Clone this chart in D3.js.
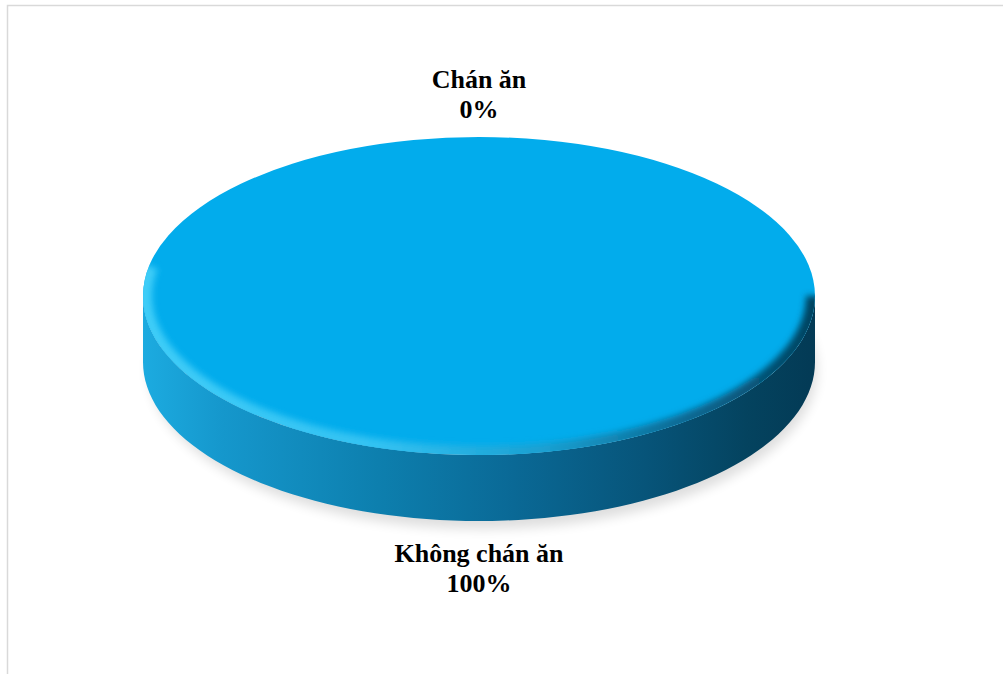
<!DOCTYPE html>
<html><head><meta charset="utf-8">
<script src="https://cdn.jsdelivr.net/npm/d3@7"></script>
<style>html,body{margin:0;padding:0;background:#fff;}svg{display:block;}</style>
</head><body>
<script>
const categories = ["Chán ăn", "Không chán ăn"];
const values = [0, 100];
const percentLabels = ["0%", "100%"];

const W = 1003, H = 674;
const cx = 479, cy = 296, rx = 336, ry = 159, depth = 66;

const svg = d3.select("body").append("svg").attr("width", W).attr("height", H);
const defs = svg.append("defs");

// border
svg.append("path").attr("d", `M7.5,${H} L7.5,5.5 L${W},5.5`).attr("fill","none")
  .attr("stroke","#d9d9d9").attr("stroke-width",1.5);

const sideGrad = defs.append("linearGradient").attr("id","sideGrad")
  .attr("gradientUnits","userSpaceOnUse").attr("x1",cx-rx).attr("x2",cx+rx).attr("y1",0).attr("y2",0);
[[0,"#1cabe0"],[0.12,"#1597cc"],[0.35,"#0d7fae"],[0.55,"#0a6996"],[0.75,"#075479"],[0.9,"#04435f"],[1,"#033a55"]]
 .forEach(([o,c])=>sideGrad.append("stop").attr("offset",o).attr("stop-color",c));

const bevelGrad = defs.append("linearGradient").attr("id","bevelGrad")
  .attr("gradientUnits","userSpaceOnUse").attr("x1",cx-rx).attr("x2",cx+rx).attr("y1",0).attr("y2",0);
[[0,"#3fcdf8"],[0.35,"#33c2f2"],[0.6,"#1a9fd0"],[0.8,"#0a6a94"],[1,"#04425f"]]
 .forEach(([o,c])=>bevelGrad.append("stop").attr("offset",o).attr("stop-color",c));

defs.append("filter").attr("id","blurS").attr("x","-20%").attr("y","-50%").attr("width","140%").attr("height","200%")
  .append("feGaussianBlur").attr("stdDeviation",6);
defs.append("filter").attr("id","blurB").attr("x","-20%").attr("y","-50%").attr("width","140%").attr("height","200%")
  .append("feGaussianBlur").attr("stdDeviation",3);
defs.append("clipPath").attr("id","topClip").append("ellipse")
  .attr("cx",cx).attr("cy",cy).attr("rx",rx).attr("ry",ry);

const pie = d3.pie().sort(null).value(d=>d)(values);
const pt = (a, dy=0) => [cx + rx*Math.sin(a), cy - ry*Math.cos(a) + dy];

// shadow
svg.append("ellipse").attr("cx",cx+4).attr("cy",cy+depth+8).attr("rx",rx-2).attr("ry",ry)
  .attr("fill","#000").attr("opacity",0.13).attr("filter","url(#blurS)");

// sides
pie.forEach(p=>{
  if (p.endAngle - p.startAngle <= 0) return;
  const a0 = Math.max(p.startAngle, Math.PI/2), a1 = Math.min(p.endAngle, 3*Math.PI/2);
  if (a1 <= a0) return;
  const n = 80, top = [], bot = [];
  for (let i=0;i<=n;i++){ const a=a0+(a1-a0)*i/n; top.push(pt(a)); bot.push(pt(a,depth)); }
  const d = "M" + top.map(q=>q.join(",")).join("L") + "L" + bot.reverse().map(q=>q.join(",")).join("L") + "Z";
  svg.append("path").attr("d",d).attr("fill","url(#sideGrad)");
});

// top faces
const arc = d3.arc().innerRadius(0).outerRadius(rx);
const topG = svg.append("g").attr("transform",`translate(${cx},${cy}) scale(1,${ry/rx})`);
pie.forEach((p,i)=>{
  if (p.endAngle - p.startAngle <= 0) return;
  topG.append("path").attr("d",arc(p)).attr("fill","#02acec");
});

// bevel along the front edge
const bev = svg.append("g").attr("clip-path","url(#topClip)");
pie.forEach(p=>{
  if (p.endAngle - p.startAngle <= 0) return;
  const a0 = Math.max(p.startAngle, Math.PI*0.5), a1 = Math.min(p.endAngle, Math.PI*1.56);
  const n = 80, pts=[];
  for (let i=0;i<=n;i++){ const a=a0+(a1-a0)*i/n; pts.push([cx+(rx-2)*Math.sin(a), cy-(ry-2)*Math.cos(a)]); }
  bev.append("path").attr("d","M"+pts.map(q=>q.join(",")).join("L")).attr("fill","none")
    .attr("stroke","url(#bevelGrad)").attr("stroke-width",14).attr("filter","url(#blurB)");
});

// labels
const labelPos = [[cx, 88], [cx, 562]];
categories.forEach((c,i)=>{
  const t = svg.append("text").attr("text-anchor","middle")
    .attr("font-family","'Liberation Serif','Times New Roman',serif").attr("font-weight","bold")
    .attr("font-size",26).attr("fill","#000");
  t.append("tspan").attr("x",labelPos[i][0]).attr("y",labelPos[i][1]).text(c);
  t.append("tspan").attr("x",labelPos[i][0]).attr("y",labelPos[i][1]+30).text(percentLabels[i]);
});
</script>
</body></html>
